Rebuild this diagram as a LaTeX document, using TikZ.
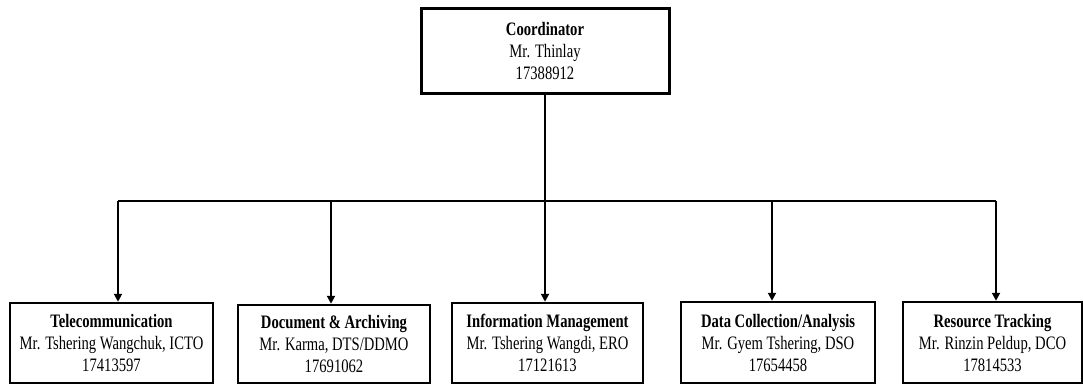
\documentclass[tikz,border=0pt]{standalone}
\usepackage{fontspec}
\setmainfont[FakeStretch=0.77]{Liberation Serif}
\usetikzlibrary{arrows.meta}
\begin{document}
\begin{tikzpicture}[x=1pt,y=-1pt,
  box/.style={draw=black,line width=2.5pt,fill=white,align=center,inner sep=0pt,
    font=\fontsize{19}{22}\selectfont},
  conn/.style={line width=2.2pt},
  arr/.style={line width=2.2pt,-{Triangle[length=8pt,width=8pt]}}]
\useasboundingbox (0,0) rectangle (1083,385);
\node[box,line width=3pt,minimum width=248pt,minimum height=85pt] (top) at (545,51.5)
  {\textbf{Coordinator}\\Mr. Thinlay\\17388912};
\node[box,minimum width=203pt,minimum height=80pt] (b1) at (111.5,343)
  {\textbf{Telecommunication}\\Mr. Tshering Wangchuk, ICTO\\17413597};
\node[box,minimum width=192pt,minimum height=78pt] (b2) at (334,344)
  {\textbf{Document \& Archiving}\\Mr. Karma, DTS/DDMO\\17691062};
\node[box,minimum width=191pt,minimum height=80pt] (b3) at (547.5,343)
  {\textbf{Information Management}\\Mr. Tshering Wangdi, ERO\\17121613};
\node[box,minimum width=194pt,minimum height=81pt] (b4) at (778,342.5)
  {\textbf{Data Collection/Analysis}\\Mr. Gyem Tshering, DSO\\17654458};
\node[box,minimum width=179pt,minimum height=81pt] (b5) at (992.5,342.5)
  {\textbf{Resource Tracking}\\Mr. Rinzin Peldup, DCO\\17814533};
\coordinate (j) at (545,201);
\coordinate (c1) at (118,201);
\coordinate (c2) at (331,201);
\coordinate (c4) at (772,201);
\coordinate (c5) at (996,201);
\draw[conn] (top.south) -- (j);
\draw[conn] (c1) -- (c5);
\draw[arr] (c1) -- (c1 |- b1.north);
\draw[arr] (c2) -- (c2 |- b2.north);
\draw[arr] (j) -- (j |- b3.north);
\draw[arr] (c4) -- (c4 |- b4.north);
\draw[arr] (c5) -- (c5 |- b5.north);
\end{tikzpicture}
\end{document}
